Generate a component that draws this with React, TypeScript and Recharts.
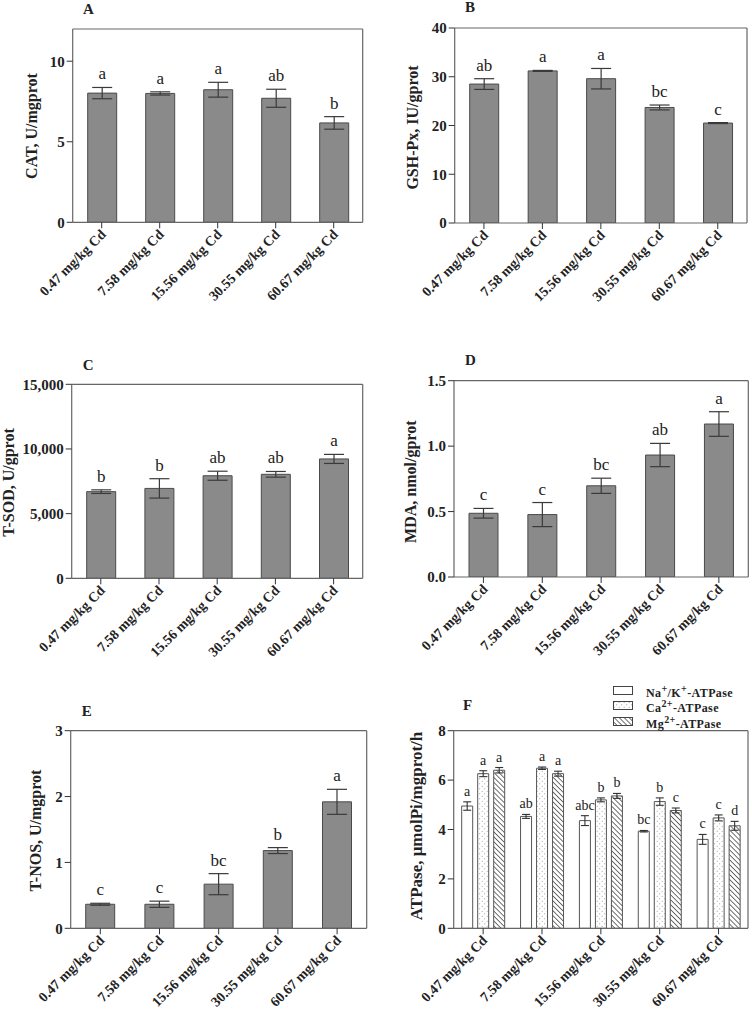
import React from "react";
import { BarChart, Bar, XAxis, YAxis, ErrorBar, LabelList } from "recharts";

const doses = [
  "0.47 mg/kg Cd",
  "7.58 mg/kg Cd",
  "15.56 mg/kg Cd",
  "30.55 mg/kg Cd",
  "60.67 mg/kg Cd",
];

// A - CAT
const catMean = [8.02, 8.0, 8.23, 7.7, 6.17];
const catErr = [0.35, 0.1, 0.46, 0.56, 0.39];
const catLetters = ["a", "a", "a", "ab", "b"];

// B - GSH-Px
const gshMean = [28.5, 31.2, 29.6, 23.7, 20.5];
const gshErr = [1.1, 0.1, 2.1, 0.5, 0.1];
const gshLetters = ["ab", "a", "a", "bc", "c"];

// C - T-SOD
const sodMean = [6700, 6950, 7930, 8040, 9230];
const sodErr = [140, 750, 350, 220, 350];
const sodLetters = ["b", "b", "ab", "ab", "a"];

// D - MDA
const mdaMean = [0.487, 0.477, 0.697, 0.932, 1.169];
const mdaErr = [0.037, 0.092, 0.058, 0.089, 0.094];
const mdaLetters = ["c", "c", "bc", "ab", "a"];

// E - T-NOS
const nosMean = [0.365, 0.365, 0.67, 1.18, 1.92];
const nosErr = [0.015, 0.047, 0.16, 0.045, 0.19];
const nosLetters = ["c", "c", "bc", "b", "a"];

// F - ATPase
const naMean = [4.95, 4.53, 4.36, 3.93, 3.6];
const naErr = [0.17, 0.08, 0.2, 0.03, 0.2];
const naLetters = ["a", "ab", "abc", "bc", "c"];
const caMean = [6.26, 6.48, 5.2, 5.13, 4.47];
const caErr = [0.12, 0.05, 0.08, 0.15, 0.12];
const caLetters = ["a", "a", "b", "b", "c"];
const mgMean = [6.4, 6.26, 5.36, 4.77, 4.15];
const mgErr = [0.11, 0.1, 0.1, 0.1, 0.18];
const mgLetters = ["a", "a", "b", "c", "d"];

const SERIF = '"Liberation Serif", "Times New Roman", serif';
const AXIS = "#666";
const INK = "#222";

const single = (mean: number[], err: number[], letters: string[]) =>
  doses.map((d, i) => ({ dose: d, mean: mean[i], err: err[i], letter: letters[i] }));

const atpData = doses.map((d, i) => ({
  dose: d,
  na: naMean[i],
  naErr: naErr[i],
  naL: naLetters[i],
  ca: caMean[i],
  caErr: caErr[i],
  caL: caLetters[i],
  mg: mgMean[i],
  mgErr: mgErr[i],
  mgL: mgLetters[i],
}));

function DoseTick(props: any) {
  const { x, y, payload } = props;
  const tx = x + 5;
  const ty = y + 5;
  return (
    <text
      x={tx}
      y={ty}
      transform={`rotate(-45 ${tx} ${ty})`}
      textAnchor="end"
      fontFamily={SERIF}
      fontWeight="bold"
      fontSize={14}
      fill={INK}
    >
      {payload.value}
    </text>
  );
}

function YTitle(props: any) {
  const { posX, posY, text, size } = props;
  return (
    <text
      x={posX}
      y={posY}
      transform={`rotate(-90 ${posX} ${posY})`}
      textAnchor="middle"
      dominantBaseline="central"
      fontFamily={SERIF}
      fontWeight="bold"
      fontSize={size}
      fill={INK}
    >
      {text}
    </text>
  );
}

// letters sit above the error bar, found from the bar's own pixel scale
const letterLabel = (vals: number[], errs: number[], size: number, gap: number) => (p: any) => {
  const { x, y, width, height, value, index } = p;
  const perUnit = Number(height) / vals[index];
  const top = Number(y) - errs[index] * perUnit;
  return (
    <text
      x={Number(x) + Number(width) / 2}
      y={top - gap}
      textAnchor="middle"
      fontFamily={SERIF}
      fontSize={size}
      fill={INK}
    >
      {value}
    </text>
  );
};

interface PanelProps {
  left: number;
  top: number;
  width: number;
  height: number;
  plot: [number, number, number, number];
  data: any[];
  domain: [number, number];
  ticks: number[];
  fmt?: (v: number) => string;
  yLabel: string;
  yLabelAt: [number, number];
  yLabelSize?: number;
  barGap?: number;
  children: React.ReactNode;
}

function Panel(p: PanelProps) {
  const [x0, x1, y0, y1] = p.plot;
  const margin = {
    left: x0 - p.left - 50,
    right: p.left + p.width - x1,
    top: y0 - p.top,
    bottom: p.top + p.height - y1 - 70,
  };
  return (
    <div style={{ position: "absolute", left: p.left, top: p.top }}>
      <BarChart width={p.width} height={p.height} data={p.data} margin={margin} barGap={p.barGap ?? 4}>
        <defs>
          <pattern id="dots" width="5" height="5" patternUnits="userSpaceOnUse">
            <rect width="5" height="5" fill="#fff" />
            <circle cx="1.2" cy="1.2" r="0.5" fill="#8a8a8a" />
            <circle cx="3.7" cy="3.7" r="0.5" fill="#8a8a8a" />
          </pattern>
          <pattern id="hatch" width="3.5" height="3.5" patternUnits="userSpaceOnUse" patternTransform="rotate(-45)">
            <rect width="3.5" height="3.5" fill="#fff" />
            <line x1="0" y1="0" x2="0" y2="3.5" stroke="#333" strokeWidth="1.4" />
          </pattern>
        </defs>
        <XAxis
          xAxisId="b"
          dataKey="dose"
          interval={0}
          height={70}
          tickSize={6}
          tick={<DoseTick />}
          axisLine={{ stroke: AXIS, strokeWidth: 1.2 }}
          tickLine={{ stroke: "#333" }}
        />
        <XAxis
          xAxisId="t"
          dataKey="dose"
          orientation="top"
          mirror
          interval={0}
          height={1}
          tickSize={5}
          tick={false}
          axisLine={{ stroke: AXIS, strokeWidth: 1.2 }}
          tickLine={{ stroke: "#333" }}
        />
        <YAxis
          yAxisId="l"
          type="number"
          domain={p.domain}
          ticks={p.ticks}
          interval={0}
          allowDataOverflow
          tickFormatter={p.fmt}
          width={50}
          tickSize={6}
          tick={{ fontFamily: SERIF, fontWeight: "bold", fontSize: 15, fill: INK }}
          axisLine={{ stroke: AXIS, strokeWidth: 1.2 }}
          tickLine={{ stroke: "#333" }}
          label={
            <YTitle
              posX={p.yLabelAt[0] - p.left}
              posY={p.yLabelAt[1] - p.top}
              text={p.yLabel}
              size={p.yLabelSize ?? 16}
            />
          }
        />
        <YAxis
          yAxisId="r"
          type="number"
          orientation="right"
          mirror
          domain={p.domain}
          ticks={p.ticks}
          interval={0}
          allowDataOverflow
          width={1}
          tickSize={5}
          tick={false}
          axisLine={{ stroke: AXIS, strokeWidth: 1.2 }}
          tickLine={{ stroke: "#333" }}
        />
        {p.children}
      </BarChart>
    </div>
  );
}

const grayBar = (mean: number[], err: number[]) => (
  <Bar
    xAxisId="b"
    yAxisId="l"
    dataKey="mean"
    fill="#8a8a8a"
    stroke="#4a4a4a"
    strokeWidth={1}
    barSize={29}
    isAnimationActive={false}
  >
    <ErrorBar dataKey="err" width={10} stroke="#3a3a3a" strokeWidth={1.2} />
    <LabelList dataKey="letter" content={letterLabel(mean, err, 17, 8)} />
  </Bar>
);

const atpBar = (key: string, fill: string, mean: number[], err: number[]) => (
  <Bar
    key={key}
    xAxisId="b"
    yAxisId="l"
    dataKey={key}
    fill={fill}
    stroke="#555"
    strokeWidth={1}
    barSize={11}
    isAnimationActive={false}
  >
    <ErrorBar dataKey={key + "Err"} width={4} stroke="#333" strokeWidth={1.1} />
    <LabelList dataKey={key + "L"} content={letterLabel(mean, err, 14, 6)} />
  </Bar>
);

const titles = [
  { t: "A", x: 83, y: 2.4 },
  { t: "B", x: 465, y: 0.4 },
  { t: "C", x: 82.7, y: 358.4 },
  { t: "D", x: 465, y: 353.4 },
  { t: "E", x: 81.7, y: 704.4 },
  { t: "F", x: 463, y: 698.4 },
];

const legendRows = [
  { fill: "#fff", label: <>Na<sup>+</sup>/K<sup>+</sup>-ATPase</> },
  { fill: "url(#dots)", label: <>Ca<sup>2+</sup>-ATPase</> },
  { fill: "url(#hatch)", label: <>Mg<sup>2+</sup>-ATPase</> },
];

export default function App() {
  const comma = (v: number) => v.toLocaleString("en-US");
  return (
    <div style={{ position: "absolute", left: 0, top: 0, width: 752, height: 1021, background: "#fff" }}>
      <Panel
        left={0}
        top={0}
        width={376}
        height={340}
        plot={[72.7, 362.7, 29, 222.3]}
        data={single(catMean, catErr, catLetters)}
        domain={[0, 12]}
        ticks={[0, 5, 10]}
        yLabel="CAT, U/mgprot"
        yLabelAt={[31, 126]}
      >
        {grayBar(catMean, catErr)}
      </Panel>
      <Panel
        left={376}
        top={0}
        width={376}
        height={340}
        plot={[454.7, 747, 28, 223]}
        data={single(gshMean, gshErr, gshLetters)}
        domain={[0, 40]}
        ticks={[0, 10, 20, 30, 40]}
        yLabel="GSH-Px, IU/gprot"
        yLabelAt={[412.5, 127.5]}
      >
        {grayBar(gshMean, gshErr)}
      </Panel>
      <Panel
        left={0}
        top={340}
        width={376}
        height={340}
        plot={[71.7, 362.7, 384.3, 578.3]}
        data={single(sodMean, sodErr, sodLetters)}
        domain={[0, 15000]}
        ticks={[0, 5000, 10000, 15000]}
        fmt={comma}
        yLabel="T-SOD, U/gprot"
        yLabelAt={[8.5, 482.5]}
      >
        {grayBar(sodMean, sodErr)}
      </Panel>
      <Panel
        left={376}
        top={340}
        width={376}
        height={340}
        plot={[454, 748.3, 380.7, 577]}
        data={single(mdaMean, mdaErr, mdaLetters)}
        domain={[0, 1.5]}
        ticks={[0, 0.5, 1, 1.5]}
        fmt={(v: number) => v.toFixed(1)}
        yLabel="MDA, nmol/gprot"
        yLabelAt={[411, 481.7]}
      >
        {grayBar(mdaMean, mdaErr)}
      </Panel>
      <Panel
        left={0}
        top={680}
        width={376}
        height={341}
        plot={[70.7, 366.7, 730.7, 928.3]}
        data={single(nosMean, nosErr, nosLetters)}
        domain={[0, 3]}
        ticks={[0, 1, 2, 3]}
        yLabel="T-NOS, U/mgprot"
        yLabelAt={[35.5, 830.5]}
      >
        {grayBar(nosMean, nosErr)}
      </Panel>
      <Panel
        left={376}
        top={680}
        width={376}
        height={341}
        plot={[453.7, 748, 730.7, 928.3]}
        data={atpData}
        domain={[0, 8]}
        ticks={[0, 2, 4, 6, 8]}
        yLabel="ATPase, μmolPi/mgprot/h"
        yLabelAt={[416.5, 826]}
        yLabelSize={17}
        barGap={5}
      >
        {atpBar("na", "#fff", naMean, naErr)}
        {atpBar("ca", "url(#dots)", caMean, caErr)}
        {atpBar("mg", "url(#hatch)", mgMean, mgErr)}
      </Panel>

      {titles.map((t) => (
        <div
          key={t.t}
          style={{
            position: "absolute",
            left: t.x,
            top: t.y,
            fontFamily: SERIF,
            fontWeight: "bold",
            fontSize: 15,
            lineHeight: "15px",
            color: INK,
          }}
        >
          {t.t}
        </div>
      ))}

      <div style={{ position: "absolute", left: 613, top: 683 }}>
        {legendRows.map((r, i) => (
          <div
            key={i}
            style={{
              display: "flex",
              alignItems: "center",
              height: 15.5,
              fontFamily: SERIF,
              fontWeight: "bold",
              fontSize: 12,
              letterSpacing: 0.4,
              color: INK,
            }}
          >
            <svg width={21} height={10} style={{ marginRight: 12 }}>
              <rect x={0.5} y={0.5} width={19} height={8} fill={r.fill} stroke="#444" strokeWidth={1} />
            </svg>
            <span style={{ lineHeight: "12px" }}>{r.label}</span>
          </div>
        ))}
      </div>
    </div>
  );
}
